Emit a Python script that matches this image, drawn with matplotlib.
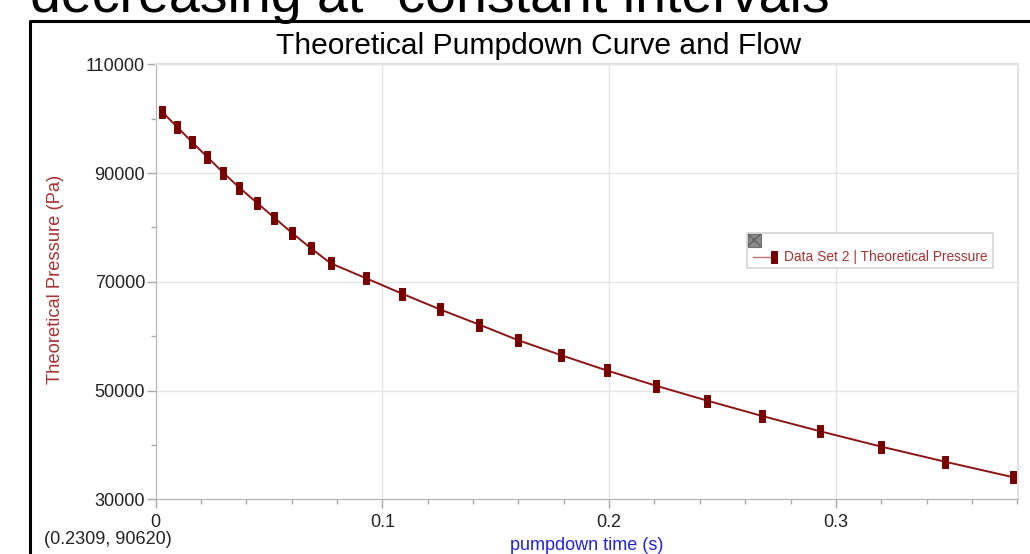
import matplotlib
matplotlib.use("Agg")
import matplotlib.pyplot as plt
from matplotlib.path import Path
from matplotlib.lines import Line2D
import matplotlib.patches as patches
from matplotlib.ticker import MultipleLocator, FixedLocator

plt.rcParams['font.family'] = ['Liberation Sans', 'DejaVu Sans']

# values
TIME_S = [0.0028, 0.0093, 0.0159, 0.0226, 0.0298, 0.0369, 0.0446, 0.0523,
          0.0603, 0.0685, 0.0772, 0.0928, 0.1087, 0.1255, 0.1428, 0.1596,
          0.1789, 0.1990, 0.2206, 0.2433, 0.2675, 0.2931, 0.3201, 0.3481,
          0.3783]
PRESSURE_PA = [101280, 98530, 95770, 93010, 90070, 87310, 84550, 81790,
               78920, 76160, 73400, 70650, 67810, 64910, 62110, 59300,
               56490, 53690, 50900, 48140, 45320, 42510, 39680, 36920,
               34050]
Y_MAJOR = [30000, 50000, 70000, 90000, 110000]
X_MAJOR = [0, 0.1, 0.2, 0.3]

SLIDE_TEXT = "decreasing at \u201cconstant intervals"
TITLE = "Theoretical Pumpdown Curve and Flow"
XLABEL = "pumpdown time (s)"
YLABEL = "Theoretical Pressure (Pa)"
LEGEND_TEXT = "Data Set 2 | Theoretical Pressure"
CURSOR_TEXT = "(0.2309, 90620)"

W, H = 1030, 554
LINE_COL = "#8e1414"
MARK_COL = "#780000"
LABEL_RED = "#a83232"
GRID_COL = "#e4e4e4"


def fx(px):
    return px / W


def fy(py):
    return 1 - py / H


fig = plt.figure(figsize=(W / 100, H / 100), dpi=100)
fig.patch.set_facecolor("white")

# slide text cut at the top, and the black frame of the graph object
fig.text(fx(30), fy(12), SLIDE_TEXT, fontsize=40, ha="left", va="baseline",
         color="black")
fig.add_artist(Line2D([fx(30), fx(30), fx(1030)], [0, fy(21), fy(21)],
                      color="black", lw=2.2, transform=fig.transFigure))

ax = fig.add_axes([fx(155.7), fy(499.3), fx(1017.7) - fx(155.7),
                   fy(64.3) - fy(499.3)])

rect = Path([(-0.5, -1), (0.5, -1), (0.5, 1), (-0.5, 1), (-0.5, -1)],
            [Path.MOVETO, Path.LINETO, Path.LINETO, Path.LINETO, Path.CLOSEPOLY])

ax.plot(TIME_S, PRESSURE_PA, color=LINE_COL, lw=1.4, marker=rect,
        markersize=8.8, mfc=MARK_COL, mec=MARK_COL, mew=0.7, zorder=3)

ax.set_xlim(0, 0.3802)
ax.set_ylim(30000, 110000)
ax.yaxis.set_major_locator(FixedLocator(Y_MAJOR))
ax.yaxis.set_minor_locator(MultipleLocator(10000))
ax.xaxis.set_major_locator(FixedLocator(X_MAJOR))
ax.xaxis.set_minor_locator(MultipleLocator(0.02))
ax.set_yticklabels([str(v) for v in Y_MAJOR])
ax.set_xticklabels(["0", "0.1", "0.2", "0.3"])
ax.grid(True, which="major", color=GRID_COL, lw=1)
ax.set_axisbelow(True)

ax.tick_params(which="major", length=6.8, width=1, color="#a8a8a8",
               labelsize=13, labelcolor="#222222")
ax.tick_params(which="minor", length=3.4, width=1, color="#a8a8a8")
ax.tick_params(axis="y", which="major", pad=0.8)
ax.tick_params(axis="x", which="major", pad=3.5)
for side in ["left", "bottom"]:
    ax.spines[side].set_color("#b4b4b4")
for side in ["top", "right"]:
    ax.spines[side].set_color("#e2e2e2")
    ax.spines[side].set_linewidth(1.6)

fig.text(fx(538.5), fy(46), TITLE, fontsize=21.6, ha="center", va="center",
         color="black")
fig.text(fx(56), fy(279), YLABEL, fontsize=13.2, rotation=90, ha="center",
         va="center", color=LABEL_RED)
fig.text(fx(587), fy(546), XLABEL, fontsize=13, ha="center", va="center",
         color="#2323d8")
fig.text(fx(44), fy(540), CURSOR_TEXT, fontsize=13, ha="left", va="center",
         color="#222222")

# legend box drawn in figure pixels
fig.add_artist(patches.Rectangle((fx(747), fy(268)), fx(993) - fx(747),
                                 fy(233) - fy(268), transform=fig.transFigure,
                                 facecolor="white", edgecolor="#d6d6d6", lw=1.2,
                                 zorder=5))
fig.add_artist(patches.Rectangle((fx(747.5), fy(246.5)), fx(13.5), fy(0) - fy(13),
                                 transform=fig.transFigure, facecolor="#8a8a8a",
                                 edgecolor="#6e6e6e", lw=0.8, zorder=6))
fig.add_artist(Line2D([fx(748.5), fx(760)], [fy(234.5), fy(245.5)],
                      color="#5a5a5a", lw=0.9, transform=fig.transFigure, zorder=7))
fig.add_artist(Line2D([fx(748.5), fx(760)], [fy(245.5), fy(234.5)],
                      color="#5a5a5a", lw=0.9, transform=fig.transFigure, zorder=7))
fig.add_artist(Line2D([fx(753), fx(773)], [fy(257.3), fy(257.3)],
                      color="#c07070", lw=1, transform=fig.transFigure, zorder=7))
fig.add_artist(Line2D([fx(773.5)], [fy(257.3)], marker=rect, markersize=8.8,
                      mfc=MARK_COL, mec=MARK_COL, mew=0.7, lw=0,
                      transform=fig.transFigure, zorder=8))
fig.text(fx(784), fy(257.5), LEGEND_TEXT, fontsize=9.9, ha="left", va="center",
         color=LABEL_RED, zorder=8)

fig.savefig("out.png", dpi=100, facecolor="white")
